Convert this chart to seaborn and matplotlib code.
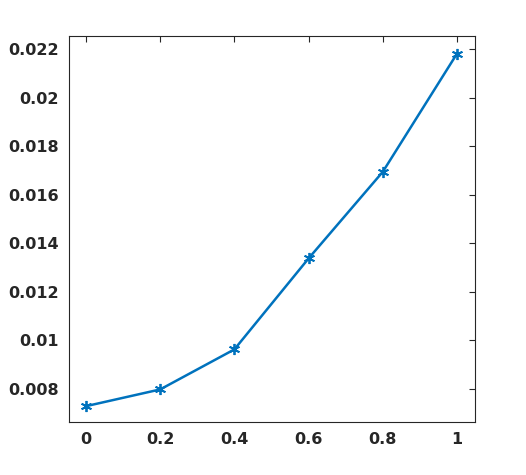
import numpy as np
import pandas as pd
import matplotlib
matplotlib.use('Agg')
import matplotlib.pyplot as plt
import seaborn as sns

x_vals = [0, 0.2, 0.4, 0.6, 0.8, 1.0]
y_vals = [0.00728, 0.00797, 0.00962, 0.01337, 0.01694, 0.02181]
x_ticks = [0, 0.2, 0.4, 0.6, 0.8, 1]
x_labels = ['0', '0.2', '0.4', '0.6', '0.8', '1']
y_ticks = [0.008, 0.010, 0.012, 0.014, 0.016, 0.018, 0.020, 0.022]
y_labels = ['0.008', '0.01', '0.012', '0.014', '0.016', '0.018', '0.02', '0.022']

sns.set_theme(style='white')
plt.rcParams['font.family'] = ['DejaVu Sans']

df = pd.DataFrame({'x': x_vals, 'y': y_vals})

fig = plt.figure(figsize=(5.26, 4.75), dpi=100)
ax = fig.add_axes([68.5 / 526, 1 - 422 / 475, (475 - 68.5) / 526, (422 - 36) / 475])

sns.lineplot(data=df, x='x', y='y', ax=ax, color='#0072BD', linewidth=1.8,
             marker=(6, 2, 0), markersize=8, markeredgewidth=1.3,
             markeredgecolor='#0072BD')

ax.set_xlim(-0.047, 1.0485)
ax.set_ylim(0.006628, 0.022537)
ax.set_xticks(x_ticks)
ax.set_xticklabels(x_labels)
ax.set_yticks(y_ticks)
ax.set_yticklabels(y_labels)
ax.set_xlabel('')
ax.set_ylabel('')

for side in ['left', 'right', 'top', 'bottom']:
    ax.spines[side].set_visible(True)
    ax.spines[side].set_color('#262626')
    ax.spines[side].set_linewidth(0.8)

ax.tick_params(direction='in', length=4, width=0.8, color='#262626',
               top=True, right=True, labelsize=11.5, labelcolor='#262626', pad=7)
for lab in ax.get_xticklabels() + ax.get_yticklabels():
    lab.set_fontweight('bold')

plt.savefig('out.png', dpi=100)
plt.close()
